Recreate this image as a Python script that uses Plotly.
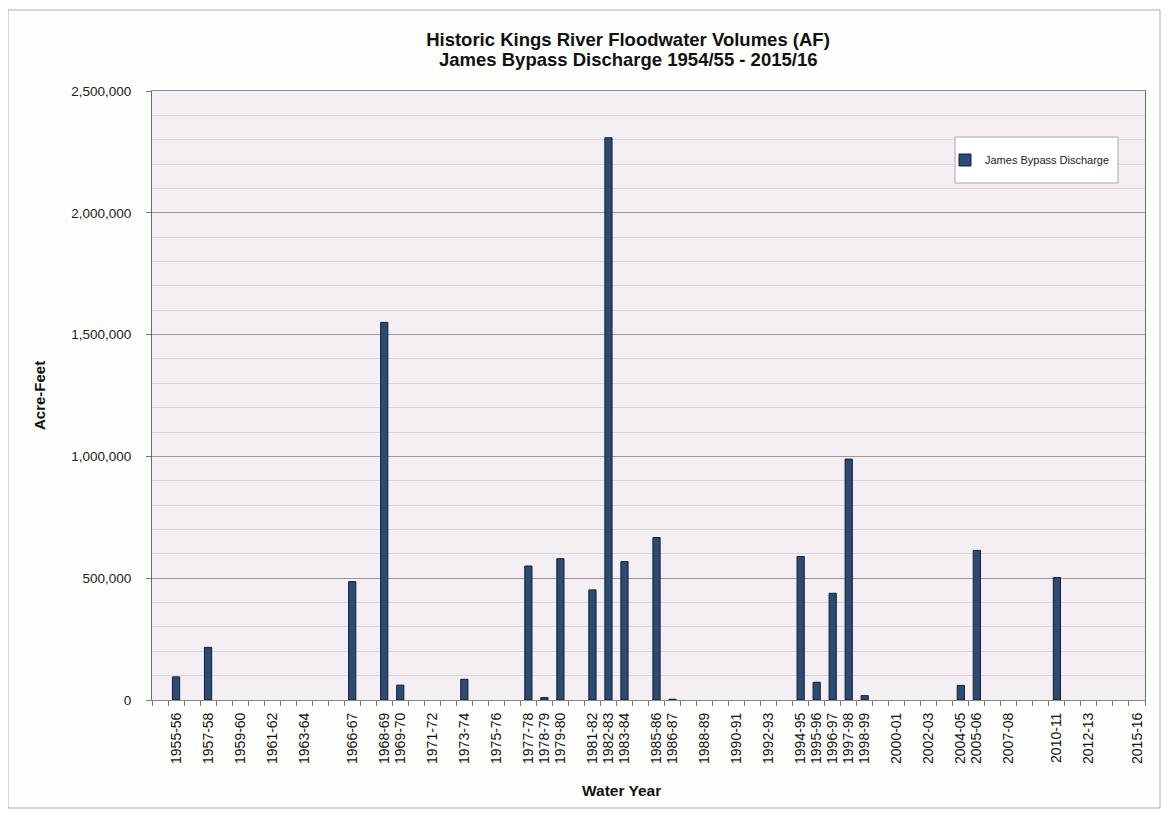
import plotly.graph_objects as go

# Categories: water years 1954-55 .. 2015-16
water_years = [f"{y}-{str(y + 1)[2:]}" for y in range(1954, 2016)]

# James Bypass Discharge (acre-feet), one value per water year
discharge = [
    0, 95000, 0, 216000, 0, 0, 0, 0, 0, 0,            # 1954-55 .. 1963-64
    0, 0, 486000, 0, 1550000, 61000, 0, 0, 0, 85000,  # 1964-65 .. 1973-74
    0, 0, 0, 550000, 10000, 580000, 0, 452000, 2308000, 568000,  # 1974-75 .. 1983-84
    0, 667000, 3000, 0, 0, 0, 0, 0, 0, 0,             # 1984-85 .. 1993-94
    589000, 73000, 438000, 989000, 18000, 0, 0, 0, 0, 0,  # 1994-95 .. 2003-04
    60000, 614000, 0, 0, 0, 0, 503000, 0, 0, 0,       # 2004-05 .. 2013-14
    0, 0,                                             # 2014-15 .. 2015-16
]

# Tick labels that appear on the x axis
labeled_years = [
    "1955-56", "1957-58", "1959-60", "1961-62", "1963-64", "1966-67",
    "1968-69", "1969-70", "1971-72", "1973-74", "1975-76", "1977-78",
    "1978-79", "1979-80", "1981-82", "1982-83", "1983-84", "1985-86",
    "1986-87", "1988-89", "1990-91", "1992-93", "1994-95", "1995-96",
    "1996-97", "1997-98", "1998-99", "2000-01", "2002-03", "2004-05",
    "2005-06", "2007-08", "2010-11", "2012-13", "2015-16",
]

y_ticks = [0, 500000, 1000000, 1500000, 2000000, 2500000]

title_line1 = "Historic Kings River Floodwater Volumes (AF)"
title_line2 = "James Bypass Discharge 1954/55 - 2015/16"
y_title = "Acre-Feet"
x_title = "Water Year"

FONT = "Liberation Sans, Arial, sans-serif"

ticktext = [w if w in labeled_years else "" for w in water_years]
bar_y = [v if v else None for v in discharge]

# layout geometry (figure coords; page has an 8px body offset)
L, T, R, B = 144, 83, 32, 123
W, H = 1169, 815
PW = W - L - R
PH = H - T - B


def px_x(x):
    return (x - L) / PW


def px_y(y):
    return (H - B - y) / PH


fig = go.Figure()
fig.add_trace(go.Bar(
    x=water_years,
    y=bar_y,
    name="James Bypass Discharge",
    marker=dict(color="#2d4a74", line=dict(color="#121e30", width=1)),
    showlegend=True,
))

fig.update_layout(
    width=W,
    height=H,
    paper_bgcolor="#fefefc",
    plot_bgcolor="#f3eff3",
    margin=dict(l=L, r=R, t=T, b=B, autoexpand=False),
    bargap=0.55,
    font=dict(family=FONT, color="#111111"),
    title=dict(
        text=f"<b>{title_line1}</b>",
        x=620 / W,
        xanchor="center",
        xref="container",
        y=1 - 32 / H,
        yanchor="middle",
        yref="container",
        font=dict(family=FONT, size=18.5, color="#111111"),
    ),
    legend=dict(
        x=px_x(937),
        y=px_y(152),
        xanchor="left",
        yanchor="middle",
        bgcolor="rgba(0,0,0,0)",
        borderwidth=0,
        font=dict(family=FONT, size=11, color="#222222"),
        itemwidth=30,
    ),
    xaxis=dict(
        type="category",
        categoryorder="array",
        categoryarray=water_years,
        tickmode="array",
        tickvals=water_years,
        ticktext=ticktext,
        tickangle=-90,
        tickson="boundaries",
        ticks="outside",
        ticklen=5,
        tickcolor="#777777",
        ticklabelstandoff=6,
        tickfont=dict(family=FONT, size=14, color="#111111"),
        showline=True,
        linecolor="#8a868c",
        linewidth=1,
        showgrid=False,
        mirror=True,
    ),
    yaxis=dict(
        range=[0, 2500000],
        tickmode="array",
        tickvals=y_ticks,
        tickformat=",d",
        ticks="outside",
        ticklen=5,
        tickcolor="#777777",
        ticklabelstandoff=12,
        tickfont=dict(family=FONT, size=13.5, color="#222222"),
        showline=True,
        linecolor="#6e6a70",
        linewidth=1,
        mirror=True,
        showgrid=True,
        gridcolor="#9c979e",
        gridwidth=1,
        zeroline=False,
        minor=dict(dtick=100000, showgrid=True, gridcolor="#d9d3da", gridwidth=1, ticks=""),
    ),
)

# second title line
fig.add_annotation(
    text=f"<b>{title_line2}</b>",
    xref="paper", yref="paper",
    x=px_x(620), y=px_y(52),
    xanchor="center", yanchor="middle",
    showarrow=False,
    font=dict(family=FONT, size=18.5, color="#111111"),
)

# y axis title
fig.add_annotation(
    text=f"<b>{y_title}</b>",
    xref="paper", yref="paper",
    x=px_x(32), y=px_y(388),
    xanchor="center", yanchor="middle",
    textangle=-90,
    showarrow=False,
    font=dict(family=FONT, size=15, color="#111111"),
)

# x axis title
fig.add_annotation(
    text=f"<b>{x_title}</b>",
    xref="paper", yref="paper",
    x=px_x(613), y=px_y(782),
    xanchor="center", yanchor="middle",
    showarrow=False,
    font=dict(family=FONT, size=15.5, color="#111111"),
)

# legend box
fig.add_shape(type="rect", xref="paper", yref="paper",
              x0=px_x(947), x1=px_x(1110), y0=px_y(175), y1=px_y(129),
              line=dict(color="#a8a4aa", width=1), fillcolor="#ffffff", layer="above")

# thin outer chart frame
fig.add_shape(type="rect", xref="paper", yref="paper",
              x0=px_x(0), x1=px_x(1152), y0=px_y(800), y1=px_y(2),
              line=dict(color="#b0acb2", width=1), fillcolor="rgba(0,0,0,0)", layer="below")

fig.write_html("out.html")
